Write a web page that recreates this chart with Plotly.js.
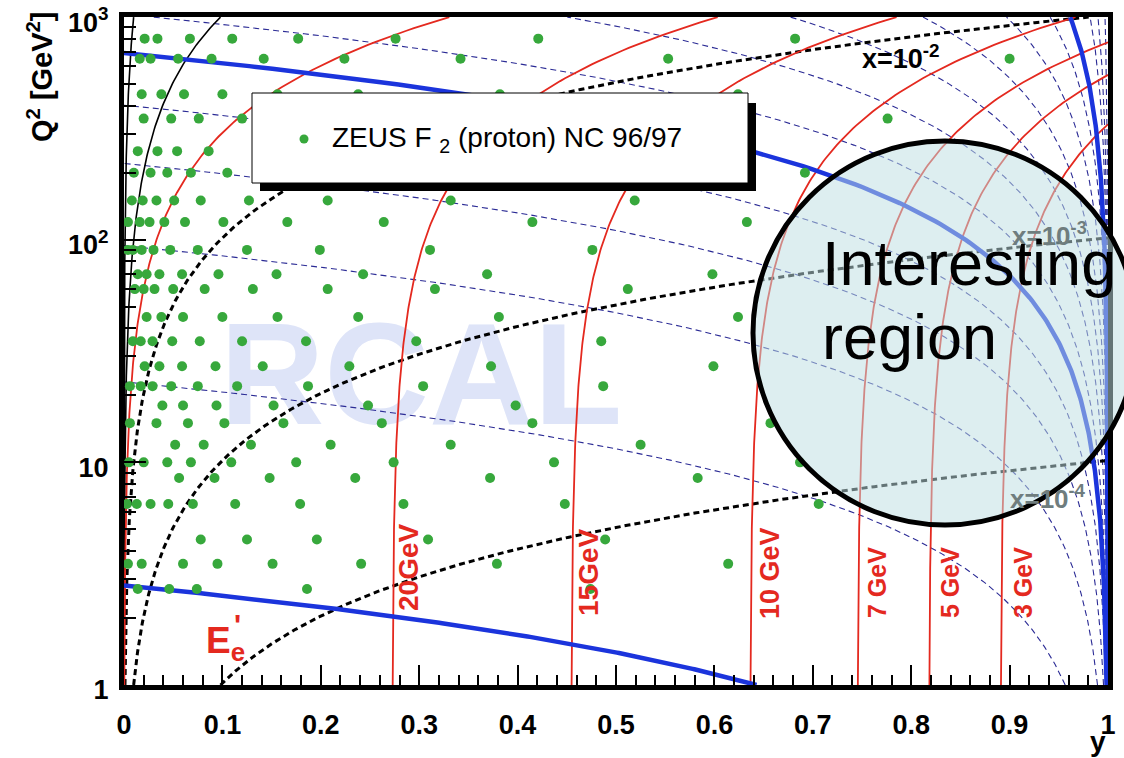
<!DOCTYPE html>
<html>
<head>
<meta charset="utf-8">
<script src="https://cdn.plot.ly/plotly-3.0.1.min.js"></script>
<style>html,body{margin:0;padding:0;background:#fff}#chart{width:1124px;height:758px}</style>
</head>
<body>
<div id="chart"></div>
<script>
// ---------------- data / parameters ----------------
const BEAM_E = 27.5;            // electron beam energy [GeV]
const S_CM = 1.02e5;            // centre-of-mass energy squared [GeV^2]
const E_PRIME = [3, 5, 7, 10, 15, 20, 27.5];          // scattered-electron energy contours [GeV]
const E_PRIME_LABELS = ['3 GeV', '5 GeV', '7 GeV', '10 GeV', '15GeV', '20GeV'];
const ANGLE_C_THICK = [2.8, 690, 26000];               // Q2 = C (1-y), thick blue contours
const ANGLE_C_DASHED = [23, 94, 220, 402, 1030, 1820, 3100, 5320, 9700, 17000, 55000, 98000, 330000];
const X_DASHED = [1e-2, 1e-3, 1e-4];                   // constant-x contours (dashed)
const X_SOLID = [0.1, 1];                              // constant-x contours (solid)
const X_LABELS = ['x=10<sup>-2</sup>', 'x=10<sup>-3</sup>', 'x=10<sup>-4</sup>'];

const Q2_BINS = [2.7, 3.5, 4.5, 6.5, 8.5, 10, 12, 15, 18, 22, 27, 35, 45, 60, 70, 90, 120, 150, 200, 250, 350, 450, 650, 800];
const Y_AT_BIN = [
  [0.014, 0.046, 0.074, 0.186, 0.474],
  [0.004, 0.018, 0.060, 0.095, 0.151, 0.241, 0.379, 0.614],
  [0.078, 0.125, 0.196, 0.309, 0.489],
  [0.003, 0.013, 0.027, 0.045, 0.070, 0.113, 0.179, 0.284, 0.448, 0.706],
  [0.056, 0.092, 0.148, 0.235, 0.372, 0.583],
  [0.005, 0.020, 0.044, 0.068, 0.109, 0.175, 0.274, 0.437, 0.687],
  [0.052, 0.081, 0.129, 0.210, 0.332, 0.525],
  [0.006, 0.033, 0.065, 0.102, 0.162, 0.262, 0.415, 0.657],
  [0.039, 0.060, 0.094, 0.152, 0.248, 0.398],
  [0.006, 0.017, 0.029, 0.048, 0.075, 0.115, 0.187, 0.304, 0.487],
  [0.021, 0.036, 0.059, 0.093, 0.141, 0.229, 0.373, 0.599],
  [0.009, 0.017, 0.029, 0.049, 0.077, 0.120, 0.185, 0.297, 0.485],
  [0.023, 0.038, 0.060, 0.100, 0.156, 0.238, 0.381, 0.624],
  [0.011, 0.020, 0.031, 0.050, 0.082, 0.131, 0.207, 0.316, 0.512],
  [0.014, 0.023, 0.036, 0.059, 0.096, 0.155, 0.243, 0.369, 0.598],
  [0.004, 0.009, 0.018, 0.030, 0.047, 0.075, 0.125, 0.199, 0.311, 0.476],
  [0.004, 0.016, 0.026, 0.041, 0.062, 0.101, 0.166, 0.264, 0.415, 0.633],
  [0.008, 0.019, 0.033, 0.051, 0.078, 0.127, 0.207, 0.332, 0.519],
  [0.010, 0.027, 0.044, 0.068, 0.105, 0.692],
  [0.014, 0.034, 0.054, 0.086],
  [0.020, 0.048, 0.076, 0.120, 0.776],
  [0.018, 0.038, 0.061, 0.100, 0.156, 0.238, 0.382, 0.624],
  [0.016, 0.027, 0.055, 0.089, 0.142, 0.224, 0.342, 0.553, 0.900],
  [0.021, 0.034, 0.067, 0.110, 0.177, 0.276, 0.421, 0.682]
];

// ---------------- helpers ----------------
const FONT = 'Liberation Sans, Arial, Helvetica, sans-serif';
const L = 124, R = 16, T = 17, B = 73, W = 1124, H = 758;
const PW = W - L - R, PH = H - T - B;
const PX = p => (p - L) / PW;          // pixel -> paper x
const PY = p => (H - B - p) / PH;      // pixel -> paper y

function q2grid(qmax) {
  const n = 240, out = [];
  const lmax = Math.log10(Math.min(qmax, 1000));
  for (let i = 0; i <= n; i++) out.push(Math.pow(10, lmax * i / n));
  return out;
}

const traces = [];

// iso-angle dashed (thin navy)
ANGLE_C_DASHED.forEach(C => {
  const q = q2grid(C);
  traces.push({x: q.map(v => 1 - v / C), y: q, mode: 'lines', type: 'scatter',
    line: {color: '#2b2b95', width: 1.1, dash: '6px,4px'}});
});
// constant x dashed black
X_DASHED.forEach(xv => {
  const q = q2grid(S_CM * xv);
  traces.push({x: q.map(v => v / (S_CM * xv)), y: q, mode: 'lines', type: 'scatter',
    line: {color: 'black', width: 3, dash: '6px,4px'}});
});
// constant x solid black
X_SOLID.forEach(xv => {
  const q = q2grid(S_CM * xv);
  traces.push({x: q.map(v => v / (S_CM * xv)), y: q, mode: 'lines', type: 'scatter',
    line: {color: 'black', width: 1.6}});
});
// E' contours (red)
E_PRIME.forEach(E => {
  const q = q2grid(4 * BEAM_E * E);
  traces.push({x: q.map(v => 1 - E / BEAM_E + v / (4 * BEAM_E * BEAM_E)), y: q, mode: 'lines', type: 'scatter',
    line: {color: '#e4291f', width: 1.8}});
});
// thick blue iso-angle
ANGLE_C_THICK.forEach(C => {
  const q = q2grid(C);
  traces.push({x: q.map(v => 1 - v / C), y: q, mode: 'lines', type: 'scatter',
    line: {color: '#1b34dc', width: 4.5}});
});
// data points
const px = [], py = [];
Q2_BINS.forEach((q, i) => Y_AT_BIN[i].forEach(yv => { px.push(yv); py.push(q); }));
traces.push({x: px, y: py, mode: 'markers', type: 'scatter', name: 'ZEUS F2 (proton) NC 96/97',
  marker: {color: '#37a83c', size: 10}});

// ---------------- annotations ----------------
const ann = [];
const eCenters = [[1023, 583], [950, 583], [877, 583], [770, 573], [588, 573], [408, 568]];
const eSizes = [25, 25, 25, 27, 28, 28];
E_PRIME_LABELS.forEach((t, i) => ann.push({xref: 'paper', yref: 'paper', x: PX(eCenters[i][0]), y: PY(eCenters[i][1]),
  text: t, textangle: -90, showarrow: false, xanchor: 'center', yanchor: 'middle',
  font: {family: FONT, size: eSizes[i], color: '#e4291f', weight: 'bold'}}));
ann.push({xref: 'paper', yref: 'paper', x: PX(860), y: PY(57), text: X_LABELS[0], showarrow: false,
  xanchor: 'left', yanchor: 'middle', font: {family: FONT, size: 27, color: 'black', weight: 'bold'}});
ann.push({xref: 'paper', yref: 'paper', x: PX(1010), y: PY(234), text: X_LABELS[1], showarrow: false,
  xanchor: 'left', yanchor: 'middle', font: {family: FONT, size: 26, color: '#6f7d7e', weight: 'bold'}});
ann.push({xref: 'paper', yref: 'paper', x: PX(1008), y: PY(497), text: X_LABELS[2], showarrow: false,
  xanchor: 'left', yanchor: 'middle', font: {family: FONT, size: 26, color: '#6f7d7e', weight: 'bold'}});
ann.push({xref: 'paper', yref: 'paper', x: PX(820), y: PY(263), text: 'Interesting', showarrow: false,
  xanchor: 'left', yanchor: 'middle', font: {family: FONT, size: 63, color: 'black'}});
ann.push({xref: 'paper', yref: 'paper', x: PX(820), y: PY(337), text: 'region', showarrow: false,
  xanchor: 'left', yanchor: 'middle', font: {family: FONT, size: 63, color: 'black'}});
ann.push({xref: 'paper', yref: 'paper', x: PX(225), y: PY(643), text: 'E<sub>e</sub>', showarrow: false,
  xanchor: 'center', yanchor: 'middle', font: {family: FONT, size: 37, color: '#e4291f', weight: 'bold'}});
ann.push({xref: 'paper', yref: 'paper', x: PX(237), y: PY(624), text: "'", showarrow: false,
  xanchor: 'center', yanchor: 'middle', font: {family: FONT, size: 30, color: '#e4291f', weight: 'bold'}});
ann.push({xref: 'paper', yref: 'paper', x: PX(330), y: PY(139), text: 'ZEUS F <sub>2</sub> (proton) NC 96/97', showarrow: false,
  xanchor: 'left', yanchor: 'middle', font: {family: FONT, size: 28, color: 'black'}});
ann.push({xref: 'paper', yref: 'paper', x: PX(1098), y: PY(741), text: 'y', showarrow: false,
  xanchor: 'center', yanchor: 'middle', font: {family: FONT, size: 28, color: 'black', weight: 'bold'}});
ann.push({xref: 'paper', yref: 'paper', x: PX(40), y: PY(77), text: 'Q<sup>2</sup> [GeV<sup>2</sup>]', showarrow: false,
  textangle: -90, xanchor: 'center', yanchor: 'middle', font: {family: FONT, size: 29, color: 'black', weight: 'bold'}});

// ---------------- shapes ----------------
const shapes = [
  {type: 'rect', xref: 'paper', yref: 'paper', layer: 'below', x0: PX(227), x1: PX(615), y0: PY(413), y1: PY(307),
    line: {width: 0}, fillcolor: 'rgba(0,0,0,0)',
    label: {text: '<b>RCAL</b>', textposition: 'middle center', font: {family: FONT, size: 145, color: 'rgb(222,228,248)'}}},
  {type: 'rect', xref: 'paper', yref: 'paper', x0: PX(260), x1: PX(756), y0: PY(191), y1: PY(103),
    line: {width: 0}, fillcolor: 'black'},
  {type: 'rect', xref: 'paper', yref: 'paper', x0: PX(252), x1: PX(748), y0: PY(183), y1: PY(93),
    line: {width: 1, color: 'black'}, fillcolor: 'white'},
  {type: 'circle', xref: 'paper', yref: 'paper', x0: PX(299.5), x1: PX(308.5), y0: PY(143.5), y1: PY(134.5),
    line: {width: 0}, fillcolor: '#37a83c'},
  {type: 'circle', xref: 'paper', yref: 'paper', x0: PX(753), x1: PX(1137), y0: PY(525), y1: PY(141),
    line: {width: 5, color: 'black'}, fillcolor: 'rgba(190,222,226,0.52)'}
];

const tickFont = {family: FONT, size: 27, color: 'black', weight: 'bold'};
const layout = {
  width: W, height: H,
  margin: {l: L, r: R, t: T, b: B},
  paper_bgcolor: 'white', plot_bgcolor: 'white',
  showlegend: false, hovermode: false,
  xaxis: {range: [0, 1], showgrid: false, zeroline: false, showline: true, linecolor: 'black', linewidth: 5,
    mirror: true, ticks: 'inside', ticklen: 20, tickwidth: 2, tickcolor: 'black',
    tickmode: 'array', tickvals: [0, 0.1, 0.2, 0.3, 0.4, 0.5, 0.6, 0.7, 0.8, 0.9, 1],
    ticktext: ['0', '0.1', '0.2', '0.3', '0.4', '0.5', '0.6', '0.7', '0.8', '0.9', '1'],
    tickfont: tickFont, ticklabelstandoff: 12, ticklabeloverflow: 'allow',
    minor: {ticks: 'inside', ticklen: 10, tickwidth: 2, tickcolor: 'black', tickmode: 'linear', tick0: 0, dtick: 0.02, showgrid: false}},
  yaxis: {type: 'log', range: [0, 3.0004], showgrid: false, zeroline: false, showline: true, linecolor: 'black', linewidth: 5,
    mirror: true, ticks: 'inside', ticklen: 22, tickwidth: 2, tickcolor: 'black',
    tickmode: 'array', tickvals: [1, 10, 100, 1000], ticktext: ['1', '10', '10<sup>2</sup>', '10<sup>3</sup>'],
    tickfont: tickFont, ticklabelstandoff: 5, ticklabeloverflow: 'allow', ticklabelshift: 5,
    minor: {ticks: 'inside', ticklen: 12, tickwidth: 2, tickcolor: 'black', tickmode: 'array',
      tickvals: [2,3,4,5,6,7,8,9,20,30,40,50,60,70,80,90,200,300,400,500,600,700,800,900], showgrid: false}},
  annotations: ann,
  shapes: shapes
};

Plotly.newPlot('chart', traces, layout, {displayModeBar: false, staticPlot: true});
</script>
</body>
</html>
